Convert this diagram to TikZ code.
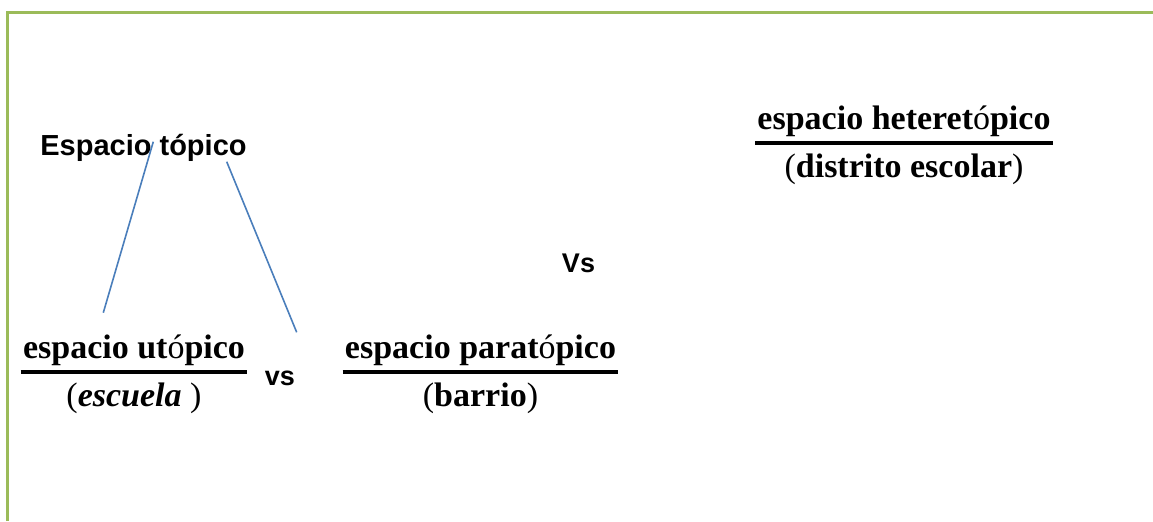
\documentclass[tikz,border=0pt]{standalone}
\usepackage{fontspec}
\setmainfont{Liberation Serif}
\newfontfamily\arialfont{Liberation Sans}
\usetikzlibrary{positioning}
\definecolor{framegreen}{HTML}{9BBB59}
\definecolor{linkblue}{HTML}{4A7EBB}

\begin{document}
\begin{tikzpicture}[x=0.5pt, y=-0.5pt]
    \tikzstyle{title} = [font=\arialfont\bfseries\fontsize{14.5}{17}\selectfont, inner sep=0pt, anchor=base]
    \tikzstyle{versus} = [font=\arialfont\bfseries\fontsize{13.5}{16}\selectfont, inner sep=0pt, anchor=base]
    \tikzstyle{numer} = [font=\bfseries\fontsize{17}{20}\selectfont, inner xsep=1pt, inner ysep=0pt, anchor=base]
    \tikzstyle{denom} = [font=\bfseries\fontsize{17}{20}\selectfont, inner sep=0pt, anchor=base, yshift=-24pt]
    \tikzstyle{fracbar} = [line width=1.6pt, black]
    \tikzstyle{link} = [linkblue, line width=0.8pt]
    \tikzstyle{frame} = [framegreen, line width=1.3pt]

    \useasboundingbox (0,0) rectangle (1153,521);
    \draw [frame] (7.5,521) -- (7.5,12.5) -- (1153,12.5);

    \node (topico) [title] at (143.5,155) {Espacio tópico};

    \node (utop) [numer] at (134,358.5) {espacio ut{\mdseries ó}pico};
    \node (escuela) [denom] at (utop.base) {{\mdseries(}\textit{escuela} {\mdseries)}};
    \node (parat) [numer] at (480.5,358) {espacio parat{\mdseries ó}pico};
    \node (barrio) [denom] at (parat.base) {{\mdseries(}barrio{\mdseries)}};
    \node (hetero) [numer] at (904,129) {espacio heteret{\mdseries ó}pico};
    \node (distrito) [denom] at (hetero.base) {{\mdseries(}distrito escolar{\mdseries)}};

    \node (vs1) [versus] at (280,385) {vs};
    \node (vs2) [versus] at (578.5,272) {Vs};

    \draw [fracbar] ([yshift=-6.7pt]utop.base west) -- ([yshift=-6.7pt]utop.base east);
    \draw [fracbar] ([yshift=-7pt]parat.base west) -- ([yshift=-7pt]parat.base east);
    \draw [fracbar] ([yshift=-7pt]hetero.base west) -- ([yshift=-7pt]hetero.base east);

    \coordinate (linkAtop) at (153.3,141.7);
    \coordinate (linkAend) at (103.3,312.7);
    \coordinate (linkBtop) at (226.7,161.7);
    \coordinate (linkBend) at (296.7,332.3);
    \draw [link] (linkAtop) -- (linkAend);
    \draw [link] (linkBtop) -- (linkBend);
\end{tikzpicture}
\end{document}
